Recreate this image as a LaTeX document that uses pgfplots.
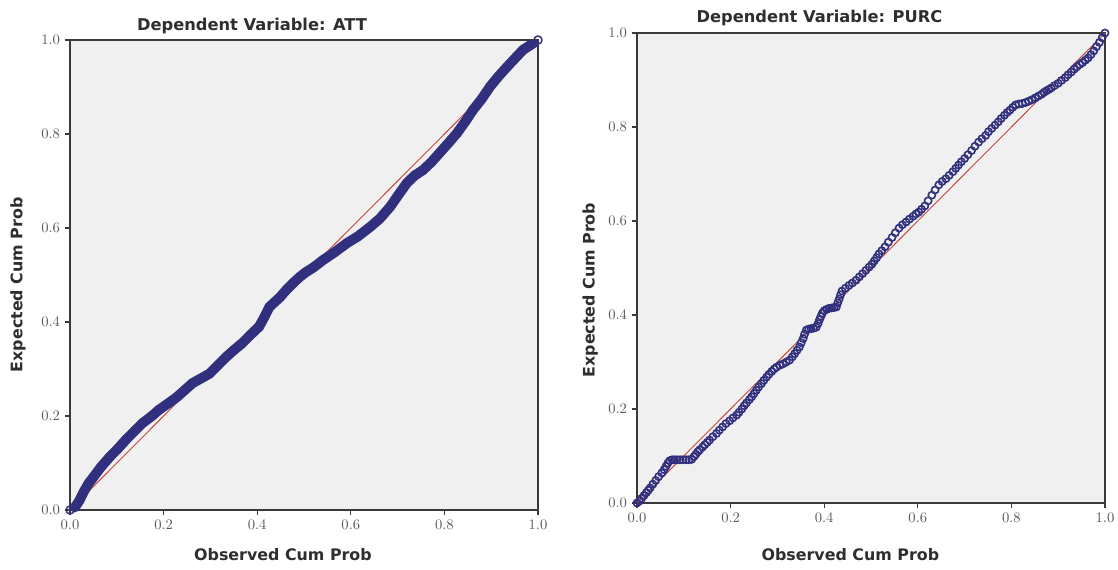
\documentclass[border=0pt]{standalone}
\usepackage{pgfplots}
\pgfplotsset{compat=1.18}
\usepackage{pgfplotstable}
\usepackage{fontspec}
\setmainfont{DejaVu Sans}
\usepackage{xcolor}
\definecolor{pt}{HTML}{30307E}
\definecolor{refl}{HTML}{C8463C}
\definecolor{panel}{HTML}{F0F0F0}
\definecolor{frame}{HTML}{3A3A3A}
\definecolor{ink}{HTML}{2E2E2E}
\definecolor{muted}{HTML}{5A5A5A}

\pgfplotstableread{
x y
0.000 0.000
0.010 0.005
0.020 0.020
0.030 0.040
0.040 0.057
0.050 0.070
0.065 0.090
0.085 0.113
0.100 0.128
0.120 0.150
0.140 0.170
0.155 0.185
0.175 0.200
0.190 0.213
0.210 0.227
0.228 0.240
0.245 0.255
0.262 0.270
0.280 0.280
0.298 0.290
0.316 0.308
0.334 0.326
0.350 0.340
0.368 0.355
0.385 0.372
0.404 0.390
0.415 0.410
0.426 0.432
0.449 0.453
0.462 0.468
0.478 0.484
0.491 0.496
0.504 0.506
0.520 0.516
0.541 0.532
0.565 0.548
0.592 0.568
0.615 0.582
0.641 0.602
0.662 0.620
0.684 0.645
0.700 0.668
0.720 0.696
0.737 0.712
0.754 0.723
0.772 0.740
0.790 0.760
0.808 0.780
0.827 0.802
0.845 0.827
0.861 0.851
0.880 0.875
0.897 0.900
0.915 0.922
0.934 0.943
0.950 0.960
0.968 0.979
0.985 0.990
1.000 1.000
}\att

\pgfplotstableread{
x y
0.000 0.000
0.005 0.004
0.010 0.010
0.015 0.016
0.020 0.022
0.024 0.027
0.028 0.032
0.034 0.040
0.040 0.048
0.046 0.056
0.053 0.064
0.058 0.071
0.062 0.078
0.066 0.085
0.070 0.090
0.075 0.092
0.080 0.092
0.086 0.092
0.092 0.092
0.098 0.092
0.105 0.092
0.111 0.092
0.117 0.093
0.122 0.099
0.126 0.104
0.130 0.109
0.134 0.113
0.140 0.119
0.145 0.124
0.150 0.129
0.155 0.134
0.162 0.141
0.170 0.148
0.176 0.155
0.183 0.162
0.190 0.169
0.198 0.175
0.205 0.181
0.213 0.187
0.218 0.193
0.224 0.200
0.229 0.207
0.234 0.213
0.240 0.220
0.245 0.226
0.250 0.233
0.255 0.240
0.260 0.247
0.266 0.254
0.271 0.261
0.277 0.268
0.282 0.274
0.288 0.280
0.293 0.285
0.298 0.289
0.305 0.293
0.312 0.296
0.319 0.300
0.326 0.304
0.332 0.311
0.337 0.318
0.342 0.325
0.347 0.332
0.351 0.341
0.355 0.350
0.358 0.359
0.362 0.368
0.367 0.370
0.372 0.371
0.377 0.372
0.383 0.374
0.387 0.382
0.390 0.390
0.393 0.397
0.396 0.404
0.400 0.409
0.405 0.412
0.410 0.414
0.416 0.415
0.421 0.416
0.426 0.417
0.429 0.426
0.432 0.434
0.435 0.443
0.438 0.451
0.445 0.457
0.453 0.463
0.460 0.468
0.468 0.474
0.475 0.481
0.482 0.488
0.489 0.495
0.496 0.502
0.502 0.508
0.507 0.515
0.512 0.522
0.517 0.530
0.523 0.537
0.530 0.545
0.537 0.555
0.545 0.565
0.552 0.575
0.560 0.585
0.567 0.592
0.575 0.598
0.582 0.604
0.590 0.610
0.596 0.615
0.602 0.619
0.608 0.625
0.615 0.632
0.622 0.643
0.630 0.655
0.637 0.666
0.645 0.677
0.652 0.684
0.660 0.690
0.667 0.697
0.675 0.705
0.681 0.712
0.687 0.719
0.693 0.726
0.700 0.733
0.707 0.741
0.715 0.750
0.722 0.759
0.730 0.768
0.737 0.775
0.745 0.782
0.751 0.790
0.758 0.797
0.765 0.804
0.772 0.811
0.778 0.818
0.785 0.825
0.791 0.831
0.797 0.836
0.803 0.842
0.809 0.847
0.816 0.849
0.823 0.850
0.830 0.852
0.837 0.855
0.844 0.858
0.851 0.862
0.858 0.866
0.865 0.870
0.870 0.874
0.875 0.877
0.880 0.880
0.885 0.883
0.892 0.888
0.900 0.893
0.907 0.899
0.915 0.905
0.921 0.911
0.928 0.917
0.934 0.923
0.940 0.928
0.946 0.933
0.952 0.937
0.958 0.942
0.964 0.947
0.970 0.954
0.976 0.962
0.982 0.971
0.988 0.980
0.994 0.990
1.000 1.000
}\purc

\pgfplotsset{
  ppplot/.style={
    scale only axis, width=351pt, height=352.5pt,
    xmin=0, xmax=1, ymin=0, ymax=1,
    xtick={0,0.2,...,1}, ytick={0,0.2,...,1},
    xtick pos=bottom, ytick pos=left,
    tick align=outside, major tick length=4pt,
    tick style={color=frame, line width=0.8pt},
    tick label style={font=\fontsize{10.5}{12}\selectfont, color=muted},
    /pgf/number format/.cd, fixed, fixed zerofill, precision=1, /pgfplots/.cd,
    axis line style={color=frame, line width=0.8pt},
    axis background/.style={fill=panel},
    title style={font=\bfseries\fontsize{12.2}{14}\selectfont, color=ink, anchor=center},
    label style={font=\bfseries\fontsize{11.9}{14}\selectfont, color=ink},
    xlabel={Observed Cum Prob}, ylabel={Expected Cum Prob},
    clip=true,
  },
}

\begin{document}
\begin{tikzpicture}
\useasboundingbox (0,0) rectangle (838.5pt,426.75pt);

\begin{axis}[ppplot, at={(52.5pt,44.25pt)}, anchor=south west,
  title={Dependent Variable: ATT},
  title style={at={(axis description cs:0.389,1.013)}},
  xlabel style={at={(axis description cs:0.455,-0.094)}, anchor=center},
  ylabel style={at={(axis description cs:-0.111,0.479)}, anchor=center},
]
\addplot[refl, line width=0.7pt] coordinates {(0,0) (1,1)};
\addplot[pt, line width=7.5pt, mark=o, mark size=3pt, mark options={line width=1.1pt}] table {\att};
\end{axis}

\begin{axis}[ppplot, at={(477.75pt,49.5pt)}, anchor=south west,
  title={Dependent Variable: PURC},
  title style={at={(axis description cs:0.39,1.015)}},
  xlabel style={at={(axis description cs:0.456,-0.109)}, anchor=center},
  ylabel style={at={(axis description cs:-0.100,0.453)}, anchor=center},
]
\addplot[refl, line width=0.7pt] coordinates {(0,0) (1,1)};
\addplot[pt, only marks, mark=o, mark size=2.7pt, mark options={line width=1.2pt}] table {\purc};
\end{axis}
\end{tikzpicture}
\end{document}
